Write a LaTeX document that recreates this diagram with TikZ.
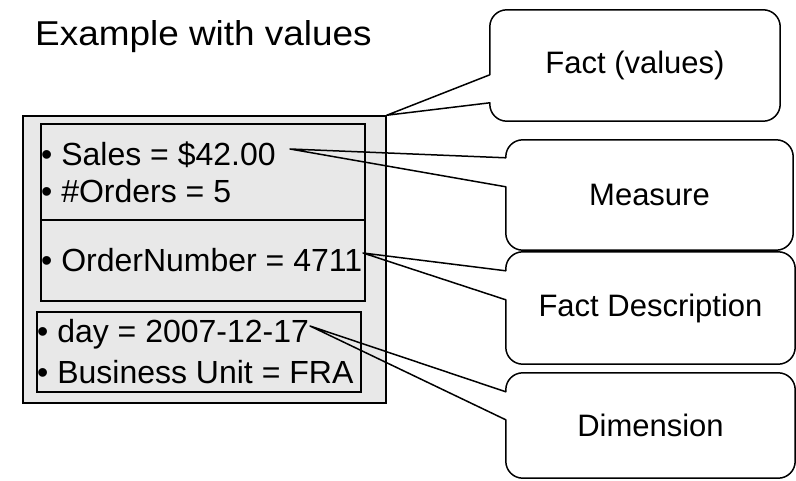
\documentclass[tikz,border=0pt]{standalone}
\usepackage{fontspec}
\setmainfont{Liberation Sans}
\newfontfamily\titlefont{Liberation Sans}[FakeStretch=1.07]
\usepackage{tikz}
\tikzstyle{grey box}=[draw, fill=black!9, line width=1.5pt, inner sep=0pt]
\tikzstyle{entry}=[anchor=base west, inner sep=0pt, font=\fontsize{32}{38}\selectfont]
\tikzset{bubble/.style={inner sep=0pt, font=\fontsize{31}{37}\selectfont},
  bubble line/.style={line width=1.5pt, line cap=round, line join=round}}

\begin{document}
\begin{tikzpicture}[x=1pt, y=-1pt]
		\useasboundingbox (0,0) rectangle (796,481);
		\node[anchor=base west, inner sep=0pt, font=\titlefont\fontsize{34.5}{41}\selectfont] (title) at (35,46) {Example with values};
		% the fact and its parts
		\node[grey box, minimum width=363pt, minimum height=287pt] (fact) at (204.5,259.5) {};
		\node[grey box, minimum width=324pt, minimum height=177pt] (measbox) at (203,212.5) {};
		\draw[line width=1.5pt] ([yshift=-7.5pt]measbox.west) -- ([yshift=-7.5pt]measbox.east);
		\node[grey box, minimum width=324pt, minimum height=80pt] (dimbox) at (199,352) {};
		\node[entry] (sales) at (41,166) {• Sales = \$42.00};
		\node[entry] (orders) at (41,203) {• \#Orders = 5};
		\node[entry] (ordnum) at (41,272) {• OrderNumber = 4711};
		\node[entry] (day) at (37,343) {• day = 2007-12-17};
		\node[entry] (unit) at (37,383) {• Business Unit = FRA};
		\coordinate (tipsales) at (290,149);
		\coordinate (tipordnum) at (363,253);
		\coordinate (tipday) at (310,326);
		% callouts
		\node[bubble, minimum width=290pt, minimum height=111pt] (factval) at (635,65.5) {Fact (values)};
		\node[bubble, minimum width=287pt, minimum height=110pt] (measure) at (649.5,195) {Measure};
		\node[bubble, minimum width=289pt, minimum height=112pt] (factdesc) at (650.5,308) {Fact Description};
		\node[bubble, minimum width=289pt, minimum height=105pt] (dimension) at (650.5,425.5) {Dimension};
		\draw[bubble line] ([yshift=-65pt]factval.north west) -- (fact.north east) -- ([yshift=-93pt]factval.north west)
			[rounded corners=17pt] -- (factval.south west) -- (factval.south east) -- (factval.north east) -- (factval.north west) -- ([yshift=-65pt]factval.north west);
		\draw[bubble line] ([yshift=-18pt]measure.north west) -- (tipsales) -- ([yshift=-47pt]measure.north west)
			[rounded corners=17pt] -- (measure.south west) -- (measure.south east) -- (measure.north east) -- (measure.north west) -- ([yshift=-18pt]measure.north west);
		\draw[bubble line] ([yshift=-19pt]factdesc.north west) -- (tipordnum) -- ([yshift=-48pt]factdesc.north west)
			[rounded corners=17pt] -- (factdesc.south west) -- (factdesc.south east) -- (factdesc.north east) -- (factdesc.north west) -- ([yshift=-19pt]factdesc.north west);
		\draw[bubble line] ([yshift=-19pt]dimension.north west) -- (tipday) -- ([yshift=-47pt]dimension.north west)
			[rounded corners=17pt] -- (dimension.south west) -- (dimension.south east) -- (dimension.north east) -- (dimension.north west) -- ([yshift=-19pt]dimension.north west);
\end{tikzpicture}
\end{document}
